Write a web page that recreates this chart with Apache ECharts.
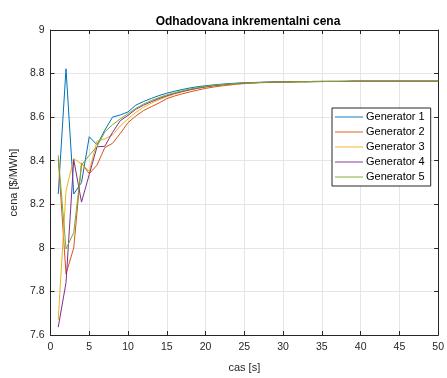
<!DOCTYPE html>
<html>
<head>
<meta charset="utf-8">
<script src="https://cdn.jsdelivr.net/npm/echarts@6/dist/echarts.min.js"></script>
<style>
  html, body { margin: 0; padding: 0; background: #fff; }
  #chart { width: 447px; height: 378px; }
</style>
</head>
<body>
<div id="chart"></div>
<script>
// Iteration index (s)
const steps = [];
for (let i = 1; i <= 50; i++) steps.push(i);

const seriesNames = ['Generator 1', 'Generator 2', 'Generator 3', 'Generator 4', 'Generator 5'];
const seriesColors = ['#0072BD', '#D95319', '#EDB120', '#7E2F8E', '#77AC30'];

// Estimated incremental cost per generator ($/MWh)
const gen1 = [8.247, 8.822, 8.247, 8.300, 8.510, 8.473, 8.540, 8.600, 8.610, 8.624,
              8.655, 8.672, 8.686, 8.699, 8.710, 8.719, 8.727, 8.734, 8.740, 8.744,
              8.748, 8.751, 8.754, 8.756, 8.758, 8.759, 8.760, 8.761, 8.762, 8.762,
              8.763, 8.763, 8.763, 8.764, 8.764, 8.764, 8.764, 8.764, 8.765, 8.765,
              8.765, 8.765, 8.765, 8.765, 8.765, 8.765, 8.765, 8.765, 8.765, 8.765];
const gen2 = [8.410, 7.880, 8.000, 8.390, 8.340, 8.380, 8.460, 8.480, 8.525, 8.575,
              8.605, 8.630, 8.648, 8.665, 8.685, 8.697, 8.707, 8.716, 8.724, 8.732,
              8.738, 8.743, 8.747, 8.751, 8.754, 8.756, 8.758, 8.759, 8.760, 8.761,
              8.761, 8.762, 8.762, 8.763, 8.763, 8.764, 8.764, 8.764, 8.764, 8.765,
              8.765, 8.765, 8.765, 8.765, 8.765, 8.765, 8.765, 8.765, 8.765, 8.765];
const gen3 = [7.670, 8.262, 8.410, 8.385, 8.352, 8.490, 8.500, 8.518, 8.560, 8.592,
              8.622, 8.645, 8.664, 8.680, 8.694, 8.706, 8.716, 8.725, 8.732, 8.738,
              8.743, 8.747, 8.750, 8.753, 8.755, 8.757, 8.759, 8.760, 8.761, 8.761,
              8.762, 8.762, 8.763, 8.763, 8.764, 8.764, 8.764, 8.764, 8.765, 8.765,
              8.765, 8.765, 8.765, 8.765, 8.765, 8.765, 8.765, 8.765, 8.765, 8.765];
const gen4 = [7.636, 7.840, 8.405, 8.210, 8.337, 8.464, 8.466, 8.530, 8.584, 8.608,
              8.636, 8.655, 8.671, 8.685, 8.698, 8.709, 8.718, 8.726, 8.733, 8.739,
              8.744, 8.748, 8.751, 8.754, 8.756, 8.758, 8.759, 8.760, 8.761, 8.762,
              8.762, 8.763, 8.763, 8.763, 8.764, 8.764, 8.764, 8.764, 8.765, 8.765,
              8.765, 8.765, 8.765, 8.765, 8.765, 8.765, 8.765, 8.765, 8.765, 8.765];
const gen5 = [8.425, 7.995, 8.070, 8.380, 8.425, 8.465, 8.532, 8.565, 8.592, 8.616,
              8.640, 8.660, 8.676, 8.690, 8.702, 8.712, 8.721, 8.729, 8.736, 8.741,
              8.746, 8.749, 8.752, 8.755, 8.757, 8.758, 8.759, 8.760, 8.761, 8.762,
              8.762, 8.763, 8.763, 8.764, 8.764, 8.764, 8.764, 8.765, 8.765, 8.765,
              8.765, 8.765, 8.765, 8.765, 8.765, 8.765, 8.765, 8.765, 8.765, 8.765];

const allSeries = [gen1, gen2, gen3, gen4, gen5];

const FONT = '"Liberation Sans", Arial, Helvetica, sans-serif';
const AX = '#262626';

const chart = echarts.init(document.getElementById('chart'), null, { renderer: 'canvas' });

const baseX = {
  type: 'value', min: 0, max: 50, interval: 5,
  axisLine: { show: true, onZero: false, lineStyle: { color: AX, width: 1 } },
  axisTick: { show: true, inside: true, length: 4, lineStyle: { color: AX } }
};
const baseY = {
  type: 'value', min: 7.6, max: 9, interval: 0.2,
  axisLine: { show: true, onZero: false, lineStyle: { color: AX, width: 1 } },
  axisTick: { show: true, inside: true, length: 4, lineStyle: { color: AX } }
};

chart.setOption({
  animation: false,
  backgroundColor: '#ffffff',
  title: {
    text: 'Odhadovana inkrementalni cena',
    left: 243, top: 11, textAlign: 'center',
    textStyle: { fontFamily: FONT, fontSize: 12, fontWeight: 'bold', color: '#000' }
  },
  grid: { left: 46, right: 7, top: 30, bottom: 38, containLabel: false },
  legend: {
    orient: 'vertical',
    left: 332, top: 108,
    data: seriesNames,
    icon: 'path://M0,5L30,5L30,6L0,6Z',
    itemWidth: 28, itemHeight: 12, itemGap: 3,
    padding: [3, 6, 3, 3],
    backgroundColor: '#ffffff',
    borderColor: AX, borderWidth: 1, borderRadius: 0,
    textStyle: { fontFamily: FONT, fontSize: 11, color: '#000', lineHeight: 12, padding: [0, 0, 0, -2] }
  },
  xAxis: [
    Object.assign({}, baseX, {
      position: 'bottom',
      name: 'cas [s]', nameLocation: 'middle', nameGap: 27,
      nameTextStyle: { fontFamily: FONT, fontSize: 11, color: AX },
      axisLabel: { fontFamily: FONT, fontSize: 10.5, color: AX, margin: 7 },
      splitLine: { show: true, lineStyle: { color: '#e5e5e5', width: 1 } }
    }),
    Object.assign({}, baseX, {
      position: 'top',
      axisLabel: { show: false },
      splitLine: { show: false }
    })
  ],
  yAxis: [
    Object.assign({}, baseY, {
      position: 'left',
      name: 'cena [$/MWh]', nameLocation: 'middle', nameGap: 28, nameRotate: 90,
      nameTextStyle: { fontFamily: FONT, fontSize: 11, color: AX },
      axisLabel: { fontFamily: FONT, fontSize: 10.5, color: AX, margin: 6 },
      splitLine: { show: true, lineStyle: { color: '#e5e5e5', width: 1 } }
    }),
    Object.assign({}, baseY, {
      position: 'right',
      axisLabel: { show: false },
      splitLine: { show: false }
    })
  ],
  series: allSeries.map((vals, k) => ({
    name: seriesNames[k],
    type: 'line',
    xAxisIndex: 0, yAxisIndex: 0,
    symbol: 'none',
    color: seriesColors[k],
    lineStyle: { width: 1, color: seriesColors[k] },
    data: steps.map((s, i) => [s, vals[i]])
  }))
});
</script>
</body>
</html>
